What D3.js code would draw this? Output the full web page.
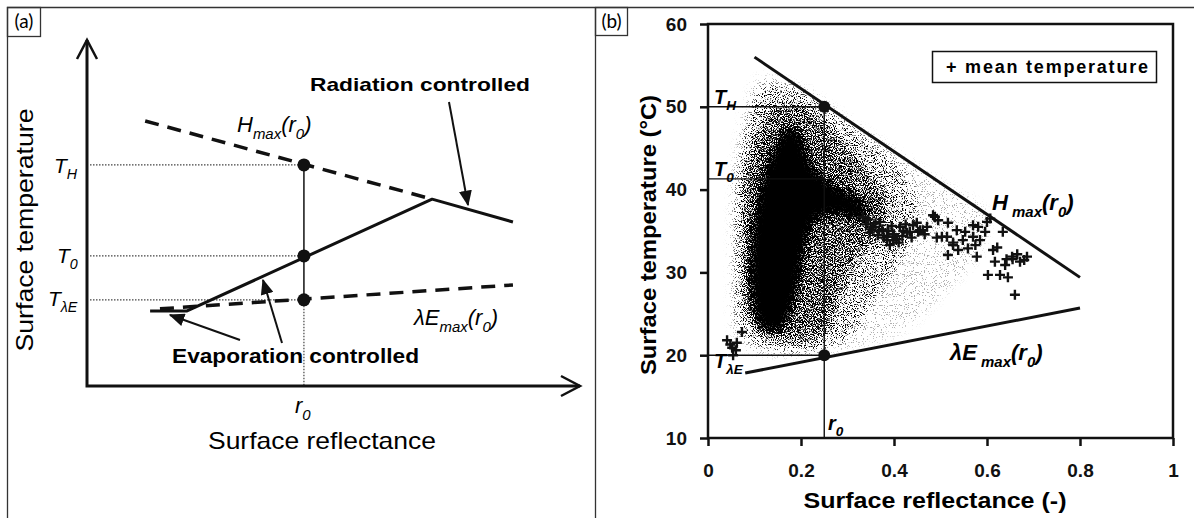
<!DOCTYPE html>
<html>
<head>
<meta charset="utf-8">
<script src="https://cdn.jsdelivr.net/npm/d3@7"></script>
<style>
  body { margin: 0; background: #fff; }
  svg { display: block; font-family: "Liberation Sans", Arial, sans-serif; }
</style>
</head>
<body>
<div id="fig"></div>
<script>
// ---------- panel (a): schematic, values in relative units (0..1) ----------
const hmaxA  = [[0.118, 0.766], [0.700, 0.540]];
const surfA  = [[0.128, 0.217], [0.203, 0.217], [0.700, 0.540], [0.864, 0.474]];
const lemaxA = [[0.148, 0.223], [0.864, 0.292]];
const r0A = 0.44;
const levelsA = [0.639, 0.376, 0.249];   // T_H, T_0, T_lambdaE

// ---------- panel (b): scatter ----------
const xTicksB = [0, 0.2, 0.4, 0.6, 0.8, 1];
const xTickLabelsB = ["0", "0.2", "0.4", "0.6", "0.8", "1"];
const yTicksB = [10, 20, 30, 40, 50, 60];
const hmaxB  = [[0.1, 56], [0.8, 29.4]];
const lemaxB = [[0.08, 17.85], [0.8, 25.7]];
const r0B = 0.25;
const tH = 50, t0 = 41.3, tLE = 20;

// density cloud outlines (reflectance, temperature)
const cloudSparse = [[0.08, 50], [0.11, 53.6], [0.2, 52.4], [0.3, 48.6], [0.4, 44.8], [0.5, 41], [0.6, 37],
  [0.58, 32], [0.5, 27], [0.42, 23], [0.3, 20.8], [0.1, 20.3], [0.06, 22], [0.05, 30], [0.055, 42]];
const cloudLight = [[0.085, 48], [0.12, 52.5], [0.2, 51.8], [0.27, 49.2], [0.35, 45.6], [0.43, 41.5], [0.45, 37.5],
  [0.42, 32], [0.36, 27], [0.31, 22.5], [0.25, 20.8], [0.12, 20.8], [0.07, 23], [0.06, 32], [0.065, 42]];
const cloudMid = [[0.1, 46], [0.15, 50.2], [0.22, 49.5], [0.29, 45.5], [0.36, 41], [0.39, 37.5], [0.36, 34],
  [0.31, 31], [0.28, 26], [0.24, 22.2], [0.15, 21.8], [0.09, 24], [0.075, 32], [0.08, 41]];
const cloudCore = [[0.15, 46], [0.175, 47.6], [0.2, 46.6], [0.22, 43.4], [0.26, 41], [0.31, 39.4], [0.345, 37.4],
  [0.33, 36.2], [0.28, 37], [0.24, 36.6], [0.215, 34], [0.2, 30], [0.185, 26], [0.165, 23.6], [0.135, 22.8],
  [0.11, 23.6], [0.095, 26.5], [0.09, 31], [0.1, 37], [0.12, 42]];

// mean temperature crosses (reflectance, temperature)
const meanPts = [
  [0.333, 36.7], [0.34, 35.8], [0.345, 36.4], [0.348, 34.8], [0.352, 35.2], [0.355, 35.5], [0.36, 35.9],
  [0.365, 34.5], [0.368, 35.0], [0.37, 36.1], [0.375, 35.2], [0.378, 34.2], [0.385, 33.9], [0.385, 34.3],
  [0.388, 35.0], [0.391, 33.3], [0.395, 35.6], [0.398, 34.3], [0.398, 33.9], [0.40, 34.6], [0.405, 34.0],
  [0.41, 33.6], [0.413, 35.5], [0.418, 34.4], [0.42, 35.0], [0.425, 35.8], [0.428, 34.8], [0.434, 34.9],
  [0.438, 34.2], [0.441, 35.7], [0.449, 36.0], [0.452, 34.9], [0.456, 35.1], [0.462, 35.1], [0.466, 34.6],
  [0.471, 35.5], [0.484, 36.9], [0.488, 36.7], [0.495, 36.3], [0.492, 34.2], [0.503, 34.3], [0.514, 34.3],
  [0.516, 36.0], [0.516, 32.1], [0.527, 33.6], [0.527, 33.3], [0.535, 35.1], [0.538, 32.7], [0.548, 33.9],
  [0.553, 34.9], [0.559, 32.9], [0.57, 34.3], [0.57, 35.7], [0.575, 33.3], [0.578, 31.9], [0.581, 35.5],
  [0.585, 33.9], [0.596, 34.9], [0.600, 36.1], [0.602, 29.7], [0.607, 36.5], [0.613, 32.7], [0.617, 31.3],
  [0.622, 33.0], [0.628, 29.7], [0.634, 34.9], [0.639, 30.9], [0.642, 31.6], [0.645, 29.4], [0.654, 31.9],
  [0.655, 31.6], [0.660, 27.3], [0.665, 32.2], [0.671, 31.3], [0.68, 31.5], [0.686, 31.9],
  [0.073, 22.8], [0.062, 21.5], [0.052, 20.9], [0.054, 20.0], [0.041, 21.8], [0.060, 20.6], [0.048, 21.3]
];

const W = 1194, H = 518;
const svg = d3.select("#fig").append("svg")
  .attr("width", W)
  .attr("height", H);
svg.append("rect").attr("width", W).attr("height", H).attr("fill", "#fff");
const defs = svg.append("defs");

// page frame and panel boxes
const frame = svg.append("g").attr("fill", "none").attr("stroke", "#333").attr("stroke-width", 1.3);
frame.append("path").attr("d", "M7.5,518V7.5H1194");
frame.append("path").attr("d", "M595.5,7.5V518");
frame.append("rect").attr("x", 7.5).attr("y", 7.5).attr("width", 33).attr("height", 29);
frame.append("rect").attr("x", 595.5).attr("y", 7.5).attr("width", 32).attr("height", 28);
svg.append("text").attr("x", 24).attr("y", 28).attr("text-anchor", "middle")
  .style("font-family", "Lato, 'Open Sans', sans-serif").style("font-size", "19px").text("(a)");
svg.append("text").attr("x", 611.5).attr("y", 28).attr("text-anchor", "middle")
  .style("font-family", "Lato, 'Open Sans', sans-serif").style("font-size", "19px").text("(b)");

// helper: text with subscripts, parts = [[string, isSub], ...]
function subText(g, x, y, parts, size, italic) {
  const t = g.append("text").attr("x", x).attr("y", y)
    .style("font-size", size + "px")
    .style("font-style", italic ? "italic" : "normal");
  let down = false;
  parts.forEach(([s, sub]) => {
    const sp = t.append("tspan").text(s);
    if (sub && !down) { sp.attr("dy", size * 0.3).style("font-size", (size * 0.68) + "px"); down = true; }
    else if (!sub && down) { sp.attr("dy", -size * 0.3); down = false; }
    else if (sub) sp.style("font-size", (size * 0.68) + "px");
  });
  return t;
}

// arrow marker for annotations
defs.append("marker").attr("id", "tri")
  .attr("viewBox", "0 0 12 10").attr("refX", 11).attr("refY", 5)
  .attr("markerWidth", 16).attr("markerHeight", 13)
  .attr("markerUnits", "userSpaceOnUse").attr("orient", "auto")
  .append("path").attr("d", "M0,0L12,5L0,10Z").attr("fill", "#111");

// ================= panel (a) =================
const xA = d3.scaleLinear().domain([0, 1]).range([87, 580]);
const yA = d3.scaleLinear().domain([0, 1]).range([386, 40]);
const lineA = d3.line().x(d => xA(d[0])).y(d => yA(d[1]));
const ga = svg.append("g");

// guide lines
levelsA.forEach(l => {
  ga.append("line")
    .attr("x1", xA(0) + 3).attr("x2", xA(r0A))
    .attr("y1", yA(l)).attr("y2", yA(l))
    .attr("stroke", "#444").attr("stroke-width", 1.2).attr("stroke-dasharray", "1.5,1.5");
});
ga.append("line").attr("x1", xA(r0A)).attr("x2", xA(r0A))
  .attr("y1", yA(levelsA[0])).attr("y2", yA(levelsA[2]))
  .attr("stroke", "#111").attr("stroke-width", 1.5);
ga.append("line").attr("x1", xA(r0A)).attr("x2", xA(r0A))
  .attr("y1", yA(levelsA[2])).attr("y2", yA(0))
  .attr("stroke", "#444").attr("stroke-width", 1.2).attr("stroke-dasharray", "1.5,1.5");

// curves
ga.append("path").attr("d", lineA(hmaxA)).attr("fill", "none")
  .attr("stroke", "#111").attr("stroke-width", 3.5).attr("stroke-dasharray", "14,9");
ga.append("path").attr("d", lineA(lemaxA)).attr("fill", "none")
  .attr("stroke", "#111").attr("stroke-width", 3.5).attr("stroke-dasharray", "14,9");
ga.append("path").attr("d", lineA(surfA)).attr("fill", "none")
  .attr("stroke", "#111").attr("stroke-width", 3).attr("stroke-linejoin", "round");
levelsA.forEach(l => {
  ga.append("circle").attr("cx", xA(r0A)).attr("cy", yA(l)).attr("r", 6.5).attr("fill", "#111");
});

// axes with open arrow heads
ga.append("path")
  .attr("d", `M${xA(0)},${yA(1)}V${yA(0)}H${xA(1)}`)
  .attr("fill", "none").attr("stroke", "#111").attr("stroke-width", 3);
ga.append("path")
  .attr("d", `M${xA(0) - 10},${yA(1) + 19}L${xA(0)},${yA(1)}L${xA(0) + 10},${yA(1) + 19}`)
  .attr("fill", "none").attr("stroke", "#111").attr("stroke-width", 2.5);
ga.append("path")
  .attr("d", `M${xA(1) - 19},${yA(0) - 10}L${xA(1)},${yA(0)}L${xA(1) - 19},${yA(0) + 10}`)
  .attr("fill", "none").attr("stroke", "#111").attr("stroke-width", 2.5);

// annotation arrows
[[449, 102, 468, 205], [240, 340, 170, 315], [282, 343, 263, 280]].forEach(a => {
  ga.append("line").attr("x1", a[0]).attr("y1", a[1]).attr("x2", a[2]).attr("y2", a[3])
    .attr("stroke", "#111").attr("stroke-width", 2).attr("marker-end", "url(#tri)");
});

// labels
ga.append("text").attr("transform", "translate(33,230) rotate(-90)")
  .attr("text-anchor", "middle").attr("textLength", 243).attr("lengthAdjust", "spacingAndGlyphs")
  .style("font-size", "24px").text("Surface temperature");
ga.append("text").attr("x", 322).attr("y", 449)
  .attr("text-anchor", "middle").attr("textLength", 228).attr("lengthAdjust", "spacingAndGlyphs")
  .style("font-size", "24px").text("Surface reflectance");
ga.append("text").attr("x", 310).attr("y", 91).attr("textLength", 220).attr("lengthAdjust", "spacingAndGlyphs")
  .style("font-size", "19px").style("font-weight", "bold").text("Radiation controlled");
ga.append("text").attr("x", 172).attr("y", 363).attr("textLength", 247).attr("lengthAdjust", "spacingAndGlyphs")
  .style("font-size", "20px").style("font-weight", "bold").text("Evaporation controlled");
subText(ga, 237, 132, [["H", false], ["max", true], ["(", false], ["r", false], ["0", true], [")", false]], 22, true);
subText(ga, 414, 325, [["λE", false], ["max", true], ["(", false], ["r", false], ["0", true], [")", false]], 22, true);
subText(ga, 295, 413, [["r", false], ["0", true]], 22, true);
subText(ga, 54, 173, [["T", false], ["H", true]], 21, true);
subText(ga, 57, 263, [["T", false], ["0", true]], 21, true);
subText(ga, 48, 306, [["T", false], ["λE", true]], 21, true);

// ================= panel (b) =================
const xB = d3.scaleLinear().domain([0, 1]).range([708, 1173]);
const yB = d3.scaleLinear().domain([10, 60]).range([438, 24]);
const lineB = d3.line().x(d => xB(d[0])).y(d => yB(d[1]));
const gb = svg.append("g");

// grainy density texture: blurred density thresholded against noise
const f = defs.append("filter").attr("id", "grain")
  .attr("filterUnits", "userSpaceOnUse")
  .attr("x", 708).attr("y", 24).attr("width", 465).attr("height", 414)
  .attr("color-interpolation-filters", "sRGB");
f.append("feGaussianBlur").attr("in", "SourceGraphic").attr("stdDeviation", 4.5).attr("result", "dens");
f.append("feTurbulence").attr("type", "fractalNoise").attr("baseFrequency", 0.9)
  .attr("numOctaves", 2).attr("seed", 7).attr("result", "turb");
f.append("feColorMatrix").attr("in", "turb").attr("type", "matrix")
  .attr("values", "0 0 0 0 0  0 0 0 0 0  0 0 0 0 0  3.2 0 0 0 -1.1").attr("result", "noise");
f.append("feComposite").attr("in", "dens").attr("in2", "noise").attr("operator", "arithmetic")
  .attr("k1", 0).attr("k2", 4).attr("k3", -3).attr("k4", 0);

const cloud = gb.append("g").attr("filter", "url(#grain)");
[[cloudSparse, 0.08], [cloudLight, 0.22], [cloudMid, 0.38], [cloudCore, 1]].forEach(([poly, op]) => {
  cloud.append("path").attr("d", lineB.curve(d3.curveCatmullRomClosed)(poly))
    .attr("fill", "#000").attr("fill-opacity", op);
});
lineB.curve(d3.curveLinear);

// guide lines at T_H, T_0, T_lambdaE and r0
[tH, t0, tLE].forEach(t => {
  gb.append("line").attr("x1", xB(0)).attr("x2", xB(r0B)).attr("y1", yB(t)).attr("y2", yB(t))
    .attr("stroke", "#111").attr("stroke-width", 1.4);
});
gb.append("line").attr("x1", xB(r0B)).attr("x2", xB(r0B)).attr("y1", yB(10)).attr("y2", yB(tH))
  .attr("stroke", "#111").attr("stroke-width", 1.4);

// envelope lines
gb.append("path").attr("d", lineB(hmaxB)).attr("fill", "none").attr("stroke", "#111").attr("stroke-width", 3);
gb.append("path").attr("d", lineB(lemaxB)).attr("fill", "none").attr("stroke", "#111").attr("stroke-width", 3);

// mean temperature crosses
gb.append("g").selectAll("path").data(meanPts).join("path")
  .attr("d", d => `M${xB(d[0]) - 5},${yB(d[1])}h10M${xB(d[0])},${yB(d[1]) - 5}v10`)
  .attr("stroke", "#111").attr("stroke-width", 2.4);

[tH, tLE].forEach(t => {
  gb.append("circle").attr("cx", xB(r0B)).attr("cy", yB(t)).attr("r", 6).attr("fill", "#111");
});

// axes
const xAxisB = d3.axisBottom(xB).tickValues(xTicksB).tickFormat((d, i) => xTickLabelsB[i])
  .tickSize(8).tickSizeOuter(0).tickPadding(18);
const yAxisB = d3.axisLeft(yB).tickValues(yTicksB).tickSize(8).tickSizeOuter(0).tickPadding(13);
const gx = gb.append("g").attr("transform", `translate(0,${yB(10)})`).call(xAxisB);
const gy = gb.append("g").attr("transform", `translate(${xB(0)},0)`).call(yAxisB);
[gx, gy].forEach(g => {
  g.select(".domain").remove();
  g.selectAll(".tick line").attr("stroke", "#111").attr("stroke-width", 2.5);
  g.selectAll(".tick text").attr("fill", "#111")
    .style("font-family", "'Liberation Sans', Arial, sans-serif")
    .style("font-size", "19px").style("font-weight", "bold");
});
gb.append("rect").attr("x", xB(0)).attr("y", yB(60))
  .attr("width", xB(1) - xB(0)).attr("height", yB(10) - yB(60))
  .attr("fill", "none").attr("stroke", "#111").attr("stroke-width", 2.5);

// legend
gb.append("rect").attr("x", 932.5).attr("y", 51.5).attr("width", 224).attr("height", 31)
  .attr("fill", "#fff").attr("stroke", "#111").attr("stroke-width", 1.5);
gb.append("text").attr("x", 946).attr("y", 73).attr("textLength", 202).attr("lengthAdjust", "spacing")
  .style("font-size", "18px").style("font-weight", "bold").text("+ mean temperature");

// axis titles
gb.append("text").attr("transform", "translate(656,235) rotate(-90)")
  .attr("text-anchor", "middle").attr("textLength", 280).attr("lengthAdjust", "spacingAndGlyphs")
  .style("font-size", "22px").style("font-weight", "bold").text("Surface temperature (°C)");
gb.append("text").attr("x", 935).attr("y", 508)
  .attr("text-anchor", "middle").attr("textLength", 263).attr("lengthAdjust", "spacingAndGlyphs")
  .style("font-size", "22px").style("font-weight", "bold").text("Surface reflectance (-)");

// annotations
subText(gb, 714, 104, [["T", false], ["H", true]], 20, true).style("font-weight", "bold");
subText(gb, 714, 176, [["T", false], ["0", true]], 20, true).style("font-weight", "bold");
subText(gb, 714, 368, [["T", false], ["λE", true]], 20, true).style("font-weight", "bold");
subText(gb, 828, 430, [["r", false], ["0", true]], 20, true).style("font-weight", "bold");
subText(gb, 992, 210, [["H", false], [" max", true], ["(", false], ["r", false], ["0", true], [")", false]], 22, true)
  .style("font-weight", "bold");
subText(gb, 950, 360, [["λE", false], [" max", true], ["(", false], ["r", false], ["0", true], [")", false]], 22, true)
  .style("font-weight", "bold");
</script>
</body>
</html>
